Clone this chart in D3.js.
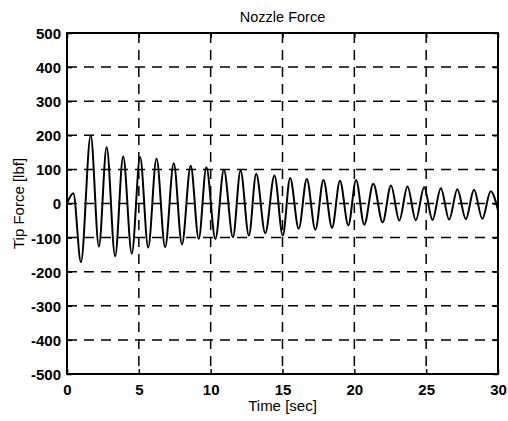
<!DOCTYPE html>
<html>
<head>
<meta charset="utf-8">
<script src="https://cdn.jsdelivr.net/npm/d3@7"></script>
<style>
  body { margin: 0; background: #fff; }
  svg text { font-family: "Liberation Sans", Arial, Helvetica, sans-serif; fill: #000; }
</style>
</head>
<body>
<div id="chart"></div>
<script>
// peaks / troughs (time in sec, force in lbf)
const timeSec = [0, 0.44, 0.97, 1.65, 2.22, 2.76, 3.35, 3.91, 4.51, 5.09, 5.65, 6.23, 6.83, 7.43, 8.0, 8.61, 9.17, 9.70,
  10.33, 10.92, 11.55, 12.08, 12.66, 13.17, 13.80, 14.44, 15.02, 15.53, 16.13, 16.69, 17.29, 17.85, 18.45, 19.0, 19.58,
  20.12, 20.69, 21.32, 21.97, 22.55, 23.13, 23.7, 24.28, 24.86, 25.44, 26.02, 26.6, 27.17, 27.76, 28.33, 28.91, 29.49, 30];
const tipForce = [0, 30, -172, 200, -126, 165, -155, 138, -147, 136, -129, 132, -128, 118, -120, 111, -104, 106,
  -104, 99, -99, 97, -94, 87, -87, 82, -94, 75, -74, 72, -77, 69, -71, 67, -64,
  69, -62, 58, -55, 53, -50, 50, -49, 48, -48, 45, -47, 42, -46, 40, -45, 36, -20];

const xTicks = [0, 5, 10, 15, 20, 25, 30];
const yTicks = [-500, -400, -300, -200, -100, 0, 100, 200, 300, 400, 500];

const width = 508, height = 421;
const margin = {top: 33, right: 10, bottom: 47, left: 67};
const w = width - margin.left - margin.right;
const h = height - margin.top - margin.bottom;

const svg = d3.select("#chart").append("svg")
    .attr("width", width).attr("height", height);

const g = svg.append("g").attr("transform", `translate(${margin.left},${margin.top})`);

const x = d3.scaleLinear().domain([0, 30]).range([0, w]);
const y = d3.scaleLinear().domain([-500, 500]).range([h, 0]);

// dashed grid
g.append("g").selectAll("line").data(xTicks.slice(1, -1)).join("line")
    .attr("x1", d => x(d)).attr("x2", d => x(d))
    .attr("y1", 0).attr("y2", h)
    .attr("stroke", "#000").attr("stroke-width", 1.5).attr("stroke-dasharray", "10,7");
g.append("g").selectAll("line").data(yTicks.slice(1, -1)).join("line")
    .attr("y1", d => y(d)).attr("y2", d => y(d))
    .attr("x1", 0).attr("x2", w)
    .attr("stroke", "#000").attr("stroke-width", 1.5).attr("stroke-dasharray", "10,7");

// axes, ticks pointing inward; plain hyphen for negatives like the original
const plain = d => String(d);
const xAxis = g.append("g").attr("transform", `translate(0,${h})`)
    .call(d3.axisBottom(x).tickValues(xTicks).tickSize(-5).tickPadding(10).tickFormat(plain));
const yAxis = g.append("g")
    .call(d3.axisLeft(y).tickValues(yTicks).tickSize(-5).tickPadding(6).tickFormat(plain));
g.append("g").attr("transform", `translate(${w},0)`)
    .call(d3.axisRight(y).tickValues(yTicks).tickSize(-5).tickFormat(""));
g.append("g")
    .call(d3.axisTop(x).tickValues(xTicks).tickSize(-5).tickFormat(""));

g.selectAll(".domain").remove();
g.selectAll(".tick line").attr("stroke-width", 1.5);
[xAxis, yAxis].forEach(a => a.selectAll("text")
    .style("font-size", "15px").style("font-weight", "bold")
    .style("font-family", "'Liberation Sans', Arial, sans-serif"));
yAxis.selectAll("text").attr("dy", "0.36em");

// box
g.append("rect").attr("width", w).attr("height", h)
    .attr("fill", "none").attr("stroke", "#000").attr("stroke-width", 2);

// signal
const pts = timeSec.map((t, i) => [t, tipForce[i]]);
const line = d3.line().x(d => x(d[0])).y(d => y(d[1])).curve(d3.curveMonotoneX);
g.append("path").datum(pts)
    .attr("d", line)
    .attr("fill", "none").attr("stroke", "#000").attr("stroke-width", 2);

// labels
svg.append("text").attr("x", margin.left + w / 2).attr("y", 22)
    .attr("text-anchor", "middle").style("font-size", "14.5px").text("Nozzle Force");
svg.append("text").attr("x", margin.left + w / 2).attr("y", 411)
    .attr("text-anchor", "middle").style("font-size", "15px").text("Time [sec]");
svg.append("text")
    .attr("transform", `translate(24,${margin.top + h / 2}) rotate(-90)`)
    .attr("text-anchor", "middle").style("font-size", "15px").text("Tip Force [lbf]");
</script>
</body>
</html>
